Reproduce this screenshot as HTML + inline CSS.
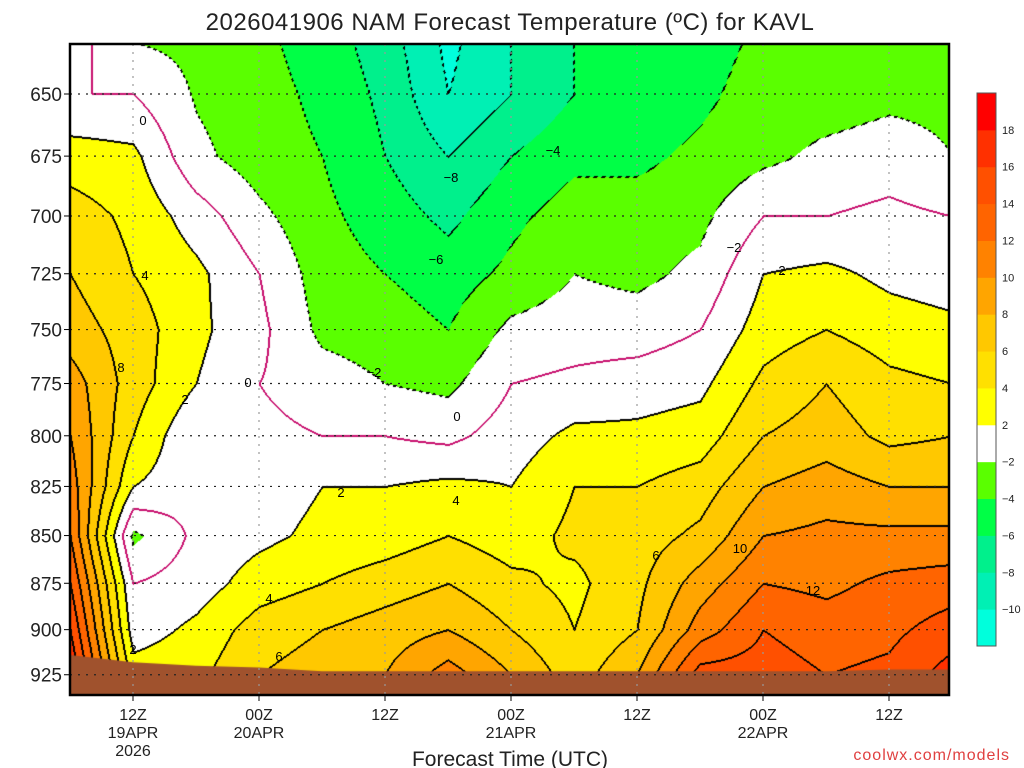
<!DOCTYPE html>
<html><head><meta charset="utf-8">
<style>
body{margin:0;background:#fff;width:1024px;height:768px;overflow:hidden;font-family:"Liberation Sans",sans-serif;}
#wrap{position:relative;width:1024px;height:768px;}
svg{position:absolute;left:0;top:0;}
canvas{position:absolute;left:70px;top:44px;}
</style></head><body>
<div id="wrap">
<canvas id="cv" width="879" height="651"></canvas>
<svg id="sv" width="1024" height="768"></svg>
</div>
<script>
const hours=[0,6,12,18,24,30,36,42,48,54,60,66,72,78,84];
const levels=[630,650,675,700,725,750,775,800,825,850,875,900,925,936];
const temps=[
[1,0,3,5,6,7,9,10,11,12,14,16,18,18],
[-2,0,2.5,3.5,4,5,5,4,2,-2.5,0,1,3,3],
[-2.5,-2.2,-1.5,1,2.5,2.5,2,0,0.5,0.5,1,2.5,3.5,3.5],
[-3.5,-3.2,-3,-1.5,0,0.5,0,0.5,1,1.5,3,5,6,6],
[-5,-4.5,-4,-3.5,-3,-2.5,-1,0,2,2.5,4,6,7,7],
[-7,-6.5,-6,-5,-4,-3,-2,0,2,3,5,7,8,8],
[-10.5,-10,-8,-6.5,-5,-4,-2.5,-0.5,2.5,4,6,8,11,11],
[-8,-8,-6,-4.5,-3.5,-1.5,0,1,2,3,4.5,6,8,8],
[-6,-6,-4.5,-3,-2,-1,0.5,2.5,4,4.5,3.5,4,5,5],
[-6,-5.5,-4.5,-3,-2.5,-1,1,2.5,4,5,5.5,6,8,8],
[-5,-4.5,-3.5,-2.5,-1.5,0,1.5,3,5,6.5,9,11,15,15],
[-3.5,-3,-2.5,0,2,3,4.5,6,8,10,12,14,15,15],
[-3,-3,-1.5,0,2.5,4,6,7,9,10.5,11.5,13,14,14],
[-3,-2.5,-1,0.5,1.5,3,4.5,5.5,8,10.5,12.5,13.5,14.5,14.5],
[-3,-2.5,-2,0,1,2.5,4,6,8,10.5,13,15,17,17]];
const groundP=[914,918,920,921,923,923,923,923,923,923,923,923,923,922,922];
const pTicks=[650,675,700,725,750,775,800,825,850,875,900,925];
const xTicks=[6,18,30,42,54,66,78];
const xLab1=["12Z","00Z","12Z","00Z","12Z","00Z","12Z"];
const xLab2=["19APR","20APR","","21APR","","22APR",""];
const cbLabels=["18","16","14","12","10","8","6","4","2","\u22122","\u22124","\u22126","\u22128","\u221210"];
const bandColors=["#00ffdc","#00f0b4","#00f08c","#00ff46","#5aff00","#ffffff","#ffff00","#ffe000","#ffc800","#ffa500","#ff8200","#ff6400","#ff5000","#ff3000","#ff0000"];
const L=70,T=44,W=879,H=651;
function xOf(h){return L+h*10.5;}
function yOf(p){return 94+(Math.log(p)-Math.log(650))*1646;}
function pOf(y){return Math.exp(Math.log(650)+(y-94)/1646);}
function bandOf(v){
  if(v<-2) return Math.max(0,Math.floor((v+12)/2));
  if(v<2) return 5;
  return Math.min(14,6+Math.floor((v-2)/2));
}
function valAt(h,p){
  let i=0;while(i<hours.length-2&&h>hours[i+1])i++;
  let j=0;while(j<levels.length-2&&p>levels[j+1])j++;
  const tx=Math.max(0,Math.min(1,(h-hours[i])/(hours[i+1]-hours[i])));
  const ty=Math.max(0,Math.min(1,(p-levels[j])/(levels[j+1]-levels[j])));
  const a=temps[i][j],b=temps[i+1][j],c=temps[i][j+1],d=temps[i+1][j+1];
  return a*(1-tx)*(1-ty)+b*tx*(1-ty)+c*(1-tx)*ty+d*tx*ty;
}
function hexRgb(h){return [parseInt(h.substr(1,2),16),parseInt(h.substr(3,2),16),parseInt(h.substr(5,2),16)];}
const cv=document.getElementById('cv'),ctx=cv.getContext('2d');
const img=ctx.createImageData(W,H);
const V=new Float32Array(W*H);
for(let y=0;y<H;y++){const p=pOf(y+T);for(let x=0;x<W;x++){V[y*W+x]=valAt((x+L-70)/10.5,p);}}
const cols=bandColors.map(hexRgb);
for(let y=0;y<H;y++)for(let x=0;x<W;x++){
  const k=y*W+x,v=V[k];let c=cols[bandOf(v)];
  const lv=Math.floor(v/2);
  const r=x<W-1?Math.floor(V[k+1]/2):lv, dn=y<H-1?Math.floor(V[k+W]/2):lv;
  const lf=x>0?Math.floor(V[k-1]/2):lv, up=y>0?Math.floor(V[k-W]/2):lv;
  if(r!==lv||dn!==lv||lf!==lv||up!==lv){
    const lvl=Math.max(lv,r,dn,lf,up)*2;
    if(lvl===0)c=[200,16,110];
    else if(lvl<0){ if(((x+y)>>2)%2===0)c=[0,0,0]; }
    else c=[0,0,0];
  }
  img.data[k*4]=c[0];img.data[k*4+1]=c[1];img.data[k*4+2]=c[2];img.data[k*4+3]=255;
}
ctx.putImageData(img,0,0);
ctx.fillStyle="#a0522d";ctx.strokeStyle="#ffffff";ctx.lineWidth=2;ctx.beginPath();ctx.moveTo(0,H);
hours.forEach((h,i)=>ctx.lineTo(xOf(h)-L,yOf(groundP[i])-T));
ctx.lineTo(W,H);ctx.closePath();ctx.fill();
const sv=document.getElementById('sv'),NS="http://www.w3.org/2000/svg";
function mk(t,a,txt){const e=document.createElementNS(NS,t);for(const k in a)e.setAttribute(k,a[k]);if(txt!==undefined)e.textContent=txt;sv.appendChild(e);return e;}
pTicks.forEach(p=>{const y=yOf(p);
  const g=mk('line',{x1:L,x2:L+W,y1:y,y2:y,stroke:'#222','stroke-width':1.2,'stroke-dasharray':'2,6'});
  
  const tk=mk('line',{x1:L-6,x2:L,y1:y,y2:y,stroke:'#000','stroke-width':1});
  
  const t=mk('text',{x:62,y:y+7,'text-anchor':'end','font-size':19,fill:'#222'},String(p));
  
});
xTicks.forEach((h,i)=>{const x=xOf(h);
  const g=mk('line',{x1:x,x2:x,y1:T,y2:T+H,stroke:'#999','stroke-width':1.2,'stroke-dasharray':'2,6'});
  
  const tk=mk('line',{x1:x,x2:x,y1:T+H,y2:T+H+6,stroke:'#000'});
  
  const t=mk('text',{x:x,y:720,'text-anchor':'middle','font-size':16,fill:'#222'},xLab1[i]);
  
  if(xLab2[i]){const t2=mk('text',{x:x,y:738,'text-anchor':'middle','font-size':16,fill:'#222'},xLab2[i]);
  }
});
const yr=mk('text',{x:xOf(6),y:756,'text-anchor':'middle','font-size':16,fill:'#222'},'2026');

const fr=mk('rect',{x:L,y:T,width:W,height:H,fill:'none',stroke:'#000','stroke-width':2.5});

const ti=mk('text',{x:510,y:30,'text-anchor':'middle','font-size':24,fill:'#222','letter-spacing':'0.5'},'2026041906 NAM Forecast Temperature (\u00baC) for KAVL');

const xt=mk('text',{x:510,y:766,'text-anchor':'middle','font-size':21,fill:'#222'},'Forecast Time (UTC)');

const cr=mk('text',{x:1010,y:760,'text-anchor':'end','font-size':16,fill:'#e04040','letter-spacing':'1'},'coolwx.com/models');

const cbT=93,cbB=646,bh=(cbB-cbT)/15;
bandColors.forEach((c,i)=>{const r=mk('rect',{x:977,y:cbB-(i+1)*bh,width:19,height:bh+0.5,fill:c});
  });
const cb=mk('rect',{x:977,y:cbT,width:19,height:cbB-cbT,fill:'none',stroke:'#555'});

cbLabels.forEach((s,i)=>{const y=cbT+(i+1)*bh;
  const t=mk('text',{x:1002,y:y+4,'font-size':11,fill:'#222'},s);
  });
const cl=[[143,120,"0"],[145,275,"4"],[121,367,"8"],[185,399,"2"],[248,382,"0"],[341,492,"2"],[456,500,"4"],[269,598,"4"],[279,656,"6"],[133,649,"2"],[457,416,"0"],[374,372,"\u22122"],[436,259,"\u22126"],[451,177,"\u22128"],[553,150,"\u22124"],[734,247,"\u22122"],[782,270,"2"],[656,555,"6"],[740,548,"10"],[813,590,"12"]];
cl.forEach(c=>{const t=mk('text',{x:c[0],y:c[1]+5,'text-anchor':'middle','font-size':13,fill:'#000'},c[2]);
  });
</script>
</body></html>
